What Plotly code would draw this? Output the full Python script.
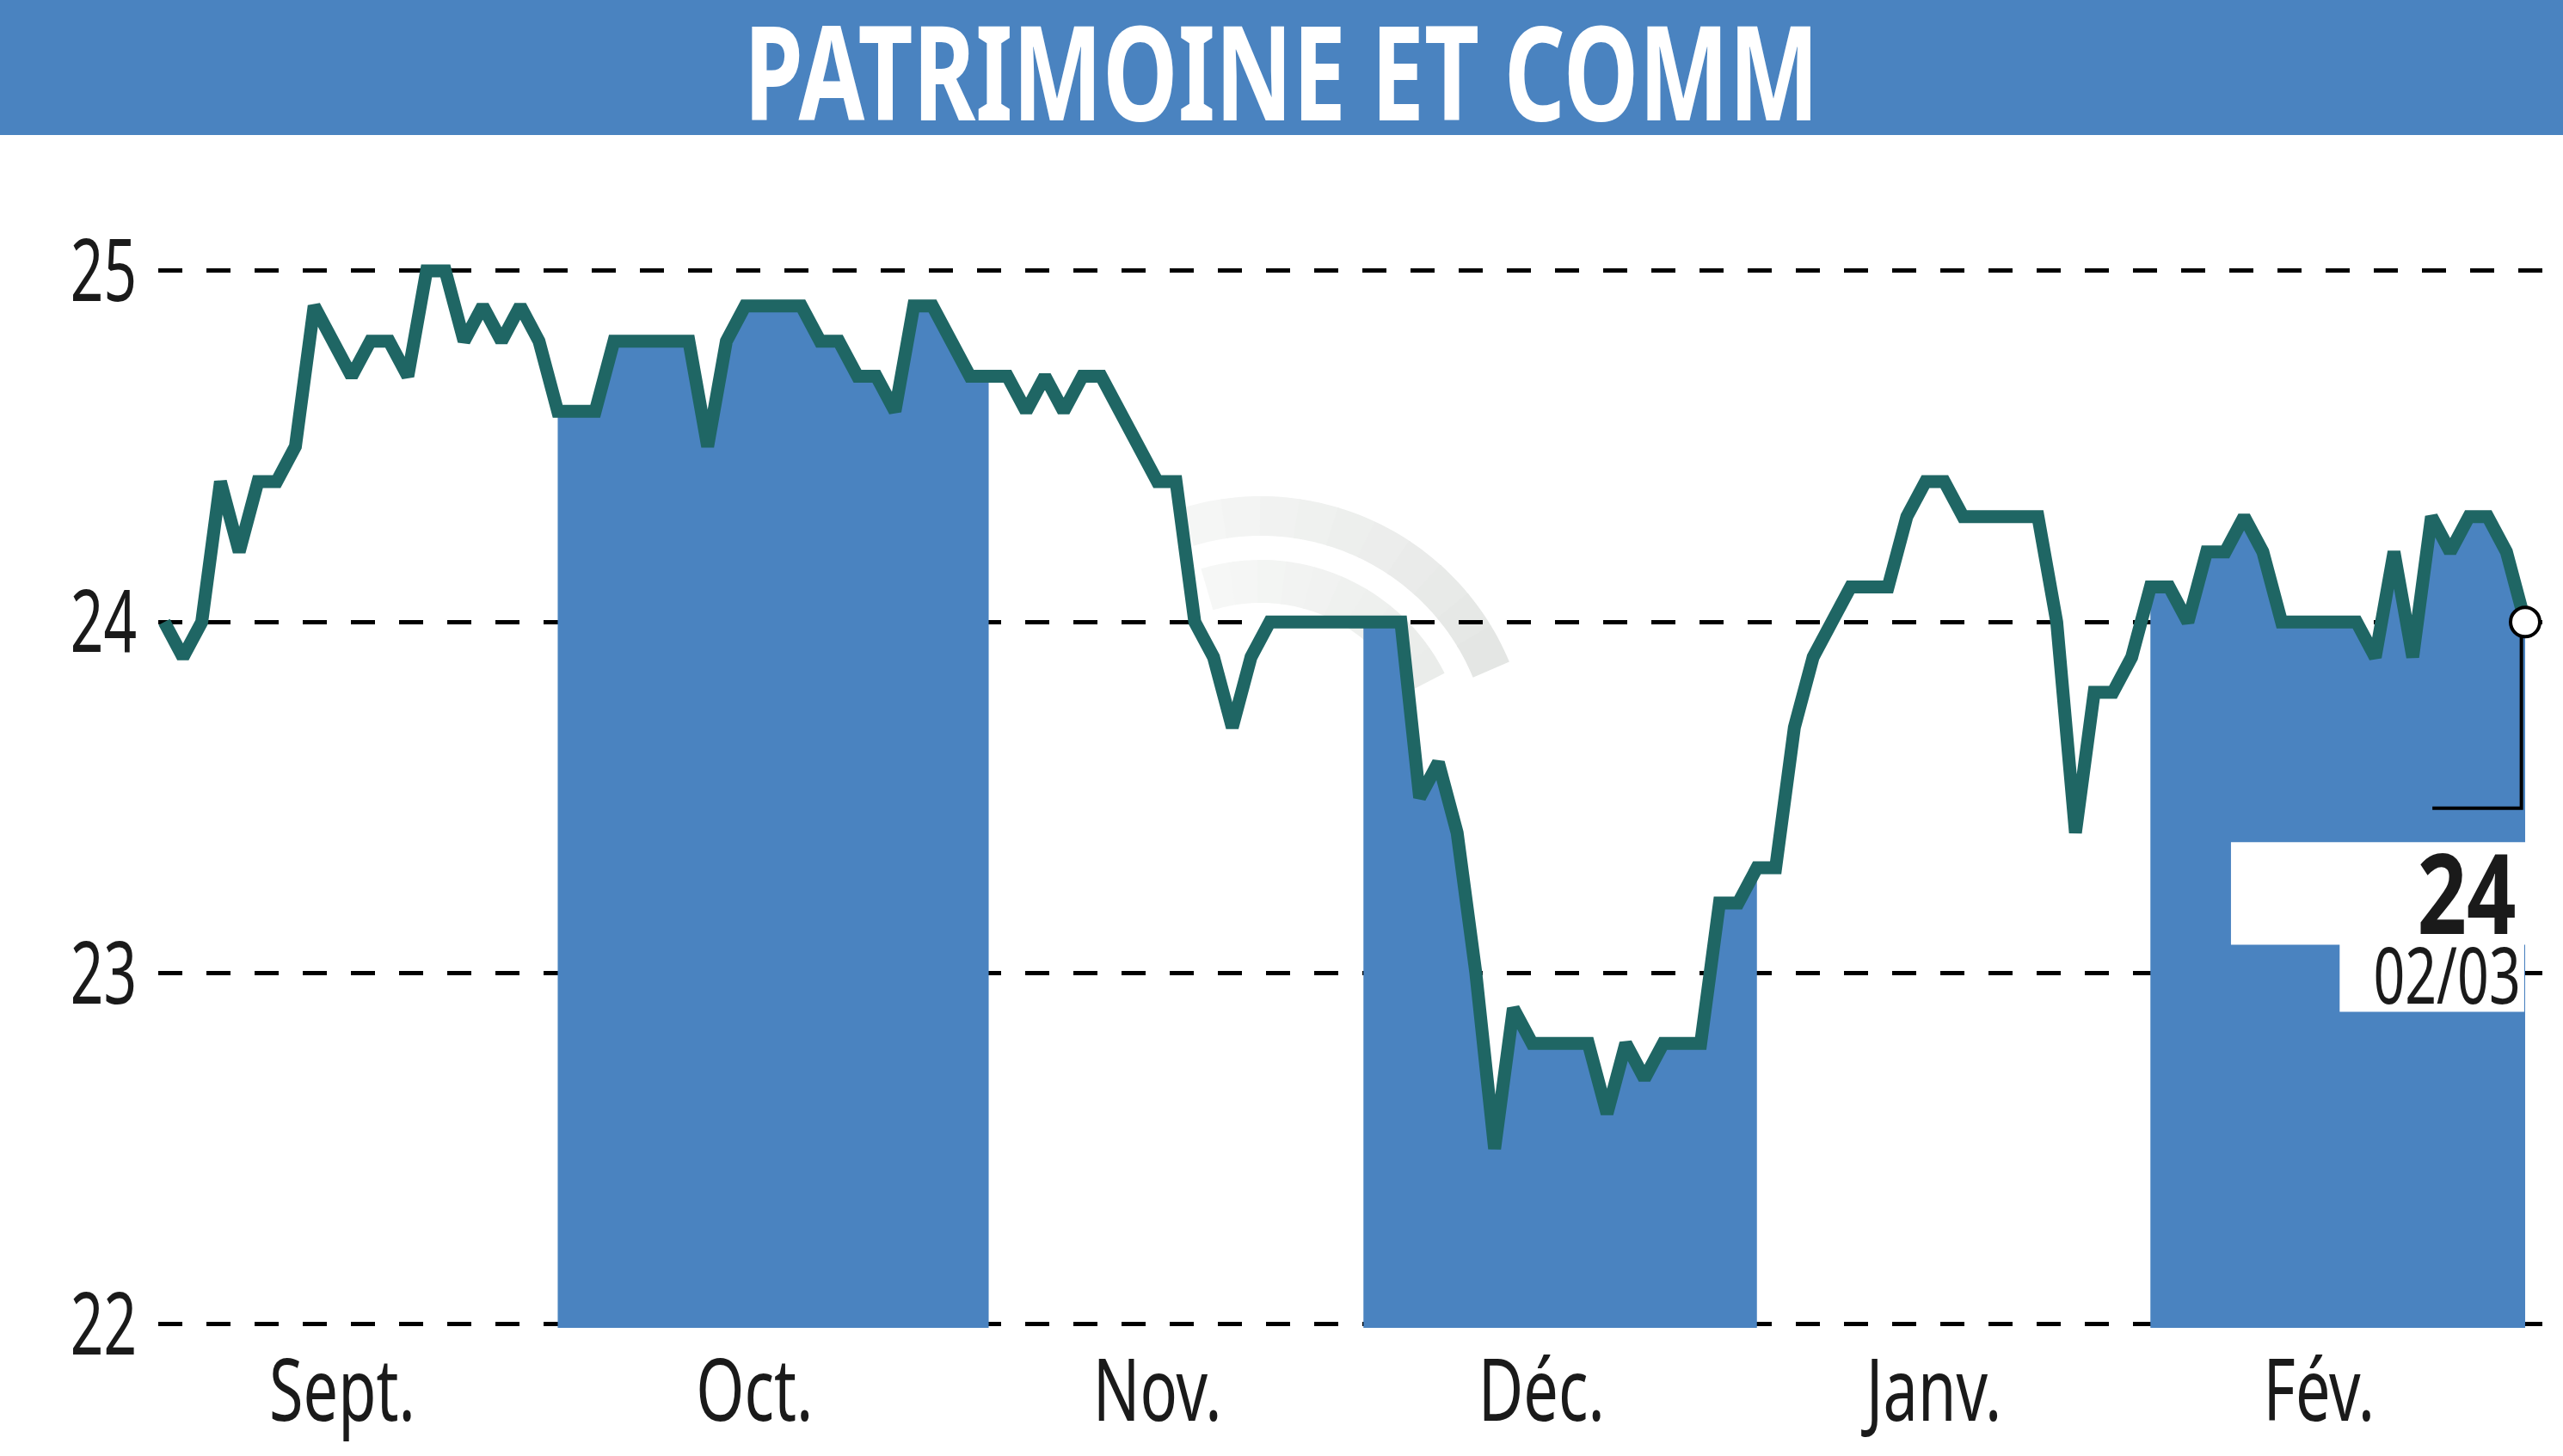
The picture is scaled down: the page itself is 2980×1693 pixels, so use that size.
import math
import plotly.graph_objects as go

# ---------------- data ----------------
prices = [
    24.0, 23.9, 24.0, 24.4, 24.2, 24.4, 24.4, 24.5, 24.9, 24.8,
    24.7, 24.8, 24.8, 24.7, 25.0, 25.0, 24.8, 24.9, 24.8, 24.9,
    24.8, 24.6, 24.6, 24.6, 24.8, 24.8, 24.8, 24.8, 24.8, 24.5,
    24.8, 24.9, 24.9, 24.9, 24.9, 24.8, 24.8, 24.7, 24.7, 24.6,
    24.9, 24.9, 24.8, 24.7, 24.7, 24.7, 24.6, 24.7, 24.6, 24.7,
    24.7, 24.6, 24.5, 24.4, 24.4, 24.0, 23.9, 23.7, 23.9, 24.0,
    24.0, 24.0, 24.0, 24.0, 24.0, 24.0, 24.0, 23.5, 23.6, 23.4,
    23.0, 22.5, 22.9, 22.8, 22.8, 22.8, 22.8, 22.6, 22.8, 22.7,
    22.8, 22.8, 22.8, 23.2, 23.2, 23.3, 23.3, 23.7, 23.9, 24.0,
    24.1, 24.1, 24.1, 24.3, 24.4, 24.4, 24.3, 24.3, 24.3, 24.3,
    24.3, 24.0, 23.4, 23.8, 23.8, 23.9, 24.1, 24.1, 24.0, 24.2,
    24.2, 24.3, 24.2, 24.0, 24.0, 24.0, 24.0, 24.0, 23.9, 24.2,
    23.9, 24.3, 24.2, 24.3, 24.3, 24.2, 24.0,
]
month_labels = ["Sept.", "Oct.", "Nov.", "Déc.", "Janv.", "Fév."]
month_day_counts = [21, 23, 20, 21, 21, 21]
shaded_months = [1, 3, 5]
y_ticks = [22, 23, 24, 25]
y_tick_text = ["22", "23", "24", "25"]
title_text = "PATRIMOINE ET COMM"
last_value_text = "24"
last_date_text = "02/03"

# ---------------- styling ----------------
W, H = 2980, 1693
ML, MR, MT, MB = 184, 0, 168, 149
PLOT_W = W - ML - MR
PLOT_H = H - MT - MB
BLUE = "#4a83c0"
LINE = "#1f6664"
TXT = "#1a1a1a"
FONT = "Noto Sans, Open Sans, sans-serif"

n = len(prices)
days = list(range(n))
last_i = days[-1]
last_v = prices[-1]

# month starts (trading-day index)
starts = [0]
for c in month_day_counts[:-1]:
    starts.append(starts[-1] + c)
ends = starts[1:] + [last_i]

x_range = [-0.32, 128.02]
y_range = [21.99, 25.36]


def px_to_paper(px, py):
    return (px - ML) / PLOT_W, (H - MB - py) / PLOT_H


fig = go.Figure()

# shaded month areas (fill under the price line)
for m in shaded_months:
    s, e = starts[m], ends[m]
    fig.add_trace(go.Scatter(
        x=days[s:e + 1], y=prices[s:e + 1], mode="lines",
        fill="tozeroy", fillcolor=BLUE,
        line=dict(width=0, color="rgba(0,0,0,0)"),
        hoverinfo="skip", showlegend=False,
    ))

# price line
fig.add_trace(go.Scatter(
    x=days, y=prices, mode="lines",
    line=dict(color=LINE, width=15),
    showlegend=False,
))

# bracket from last point
fig.add_trace(go.Scatter(
    x=[last_i - 4.95, last_i - 0.2, last_i - 0.2],
    y=[last_v - 0.53, last_v - 0.53, last_v],
    mode="lines", line=dict(color="black", width=4),
    showlegend=False, hoverinfo="skip",
))

# last point marker
fig.add_trace(go.Scatter(
    x=[last_i], y=[last_v], mode="markers",
    marker=dict(size=34, color="white", line=dict(color="black", width=4)),
    showlegend=False,
))

shapes = []
# title bar
x0p, _ = px_to_paper(0, 0)
_, ytop = px_to_paper(0, 0)
_, ybot = px_to_paper(0, 157)
shapes.append(dict(type="rect", xref="paper", yref="paper",
                   x0=x0p, x1=1, y0=ybot, y1=ytop,
                   fillcolor=BLUE, line=dict(width=0), layer="above"))


# faint watermark arcs (drawn in segments, fading to the left)
def arc_pts(cx, cy, r, a0, a1, steps):
    pts = []
    for k in range(steps + 1):
        a = math.radians(a0 + (a1 - a0) * k / steps)
        pts.append(px_to_paper(cx + r * math.cos(a), cy - r * math.sin(a)))
    return pts


def mix(c0, c1, t):
    return "rgb(%d,%d,%d)" % tuple(round(a + (b - a) * t) for a, b in zip(c0, c1))


WM_CX, WM_CY = 1466, 890
for r, a0, a1, width, c_left, c_right in [
    (290, 107, 23, 46, (245, 246, 245), (228, 230, 228)),
    (214, 107, 27, 50, (246, 247, 246), (234, 236, 234)),
]:
    nseg = 10
    for k in range(nseg):
        sa = a0 + (a1 - a0) * k / nseg
        ea = a0 + (a1 - a0) * (k + 1.05) / nseg
        pts = arc_pts(WM_CX, WM_CY, r, sa, ea, 6)
        path = "M " + " L ".join(f"{p[0]:.5f},{p[1]:.5f}" for p in pts)
        shapes.append(dict(type="path", xref="paper", yref="paper", path=path,
                           line=dict(color=mix(c_left, c_right, k / (nseg - 1)), width=width),
                           layer="below"))

# white label boxes
shapes.append(dict(type="rect", xref="x", yref="y",
                   x0=last_i - 15.7, x1=last_i + 0.08,
                   y0=last_v - 0.919, y1=last_v - 0.627,
                   fillcolor="white", line=dict(width=0), layer="above"))
shapes.append(dict(type="rect", xref="x", yref="y",
                   x0=last_i - 9.9, x1=last_i - 0.05,
                   y0=last_v - 1.11, y1=last_v - 0.915,
                   fillcolor="white", line=dict(width=0), layer="above"))

annotations = [
    dict(text=f"<b>{title_text}</b>", xref="paper", yref="paper",
         x=px_to_paper(1490, 0)[0], y=px_to_paper(0, 80)[1],
         xanchor="center", yanchor="middle", showarrow=False,
         font=dict(family=FONT, size=153, color="white")),
    dict(text=f"<b>{last_value_text}</b>", xref="x", yref="y",
         x=last_i - 0.35, y=last_v - 0.765, xanchor="right", yanchor="middle",
         showarrow=False, font=dict(family=FONT, size=129, color=TXT)),
    dict(text=last_date_text, xref="x", yref="y",
         x=last_i - 0.15, y=last_v - 1.0, xanchor="right", yanchor="middle",
         showarrow=False, font=dict(family=FONT, size=92, color=TXT)),
]

tick_pos = [(starts[i] + ends[i]) / 2 - 1.0 for i in range(len(month_labels))]

fig.update_layout(
    width=W, height=H,
    margin=dict(l=ML, r=MR, t=MT, b=MB),
    paper_bgcolor="white", plot_bgcolor="white",
    shapes=shapes, annotations=annotations,
    xaxis=dict(range=x_range, showgrid=False, zeroline=False, showline=False,
               tickvals=tick_pos, ticktext=month_labels,
               ticks="", ticklabelstandoff=7,
               tickfont=dict(family=FONT, size=100, color=TXT)),
    yaxis=dict(range=y_range, showgrid=True, gridcolor="black", gridwidth=4.6,
               griddash="28px,28px", zeroline=False, showline=False,
               tickvals=y_ticks, ticktext=y_tick_text,
               ticks="", ticklabelstandoff=24,
               tickfont=dict(family=FONT, size=100, color=TXT)),
)

# condense the text horizontally (the reference uses a condensed face)
post = """
document.body.style.margin = '0';
var gd = document.getElementById('{plot_id}');
function squeeze(sel, sx, mode) {
  gd.querySelectorAll(sel).forEach(function (t) {
    var b = t.getBBox();
    var ax = mode === 'end' ? b.x + b.width : (mode === 'start' ? b.x : b.x + b.width / 2);
    var tr = t.getAttribute('transform') || '';
    t.setAttribute('transform', tr + ' translate(' + ax + ',0) scale(' + sx + ',1) translate(' + (-ax) + ',0)');
  });
}
squeeze('.ytick text', 0.675, 'end');
squeeze('.xtick text', 0.72, 'middle');
squeeze('.annotation[data-index="0"] text', 0.725, 'middle');
squeeze('.annotation[data-index="1"] text', 0.78, 'end');
squeeze('.annotation[data-index="2"] text', 0.70, 'end');
"""

fig.write_html("out.html", post_script=post, config={"displayModeBar": False})
